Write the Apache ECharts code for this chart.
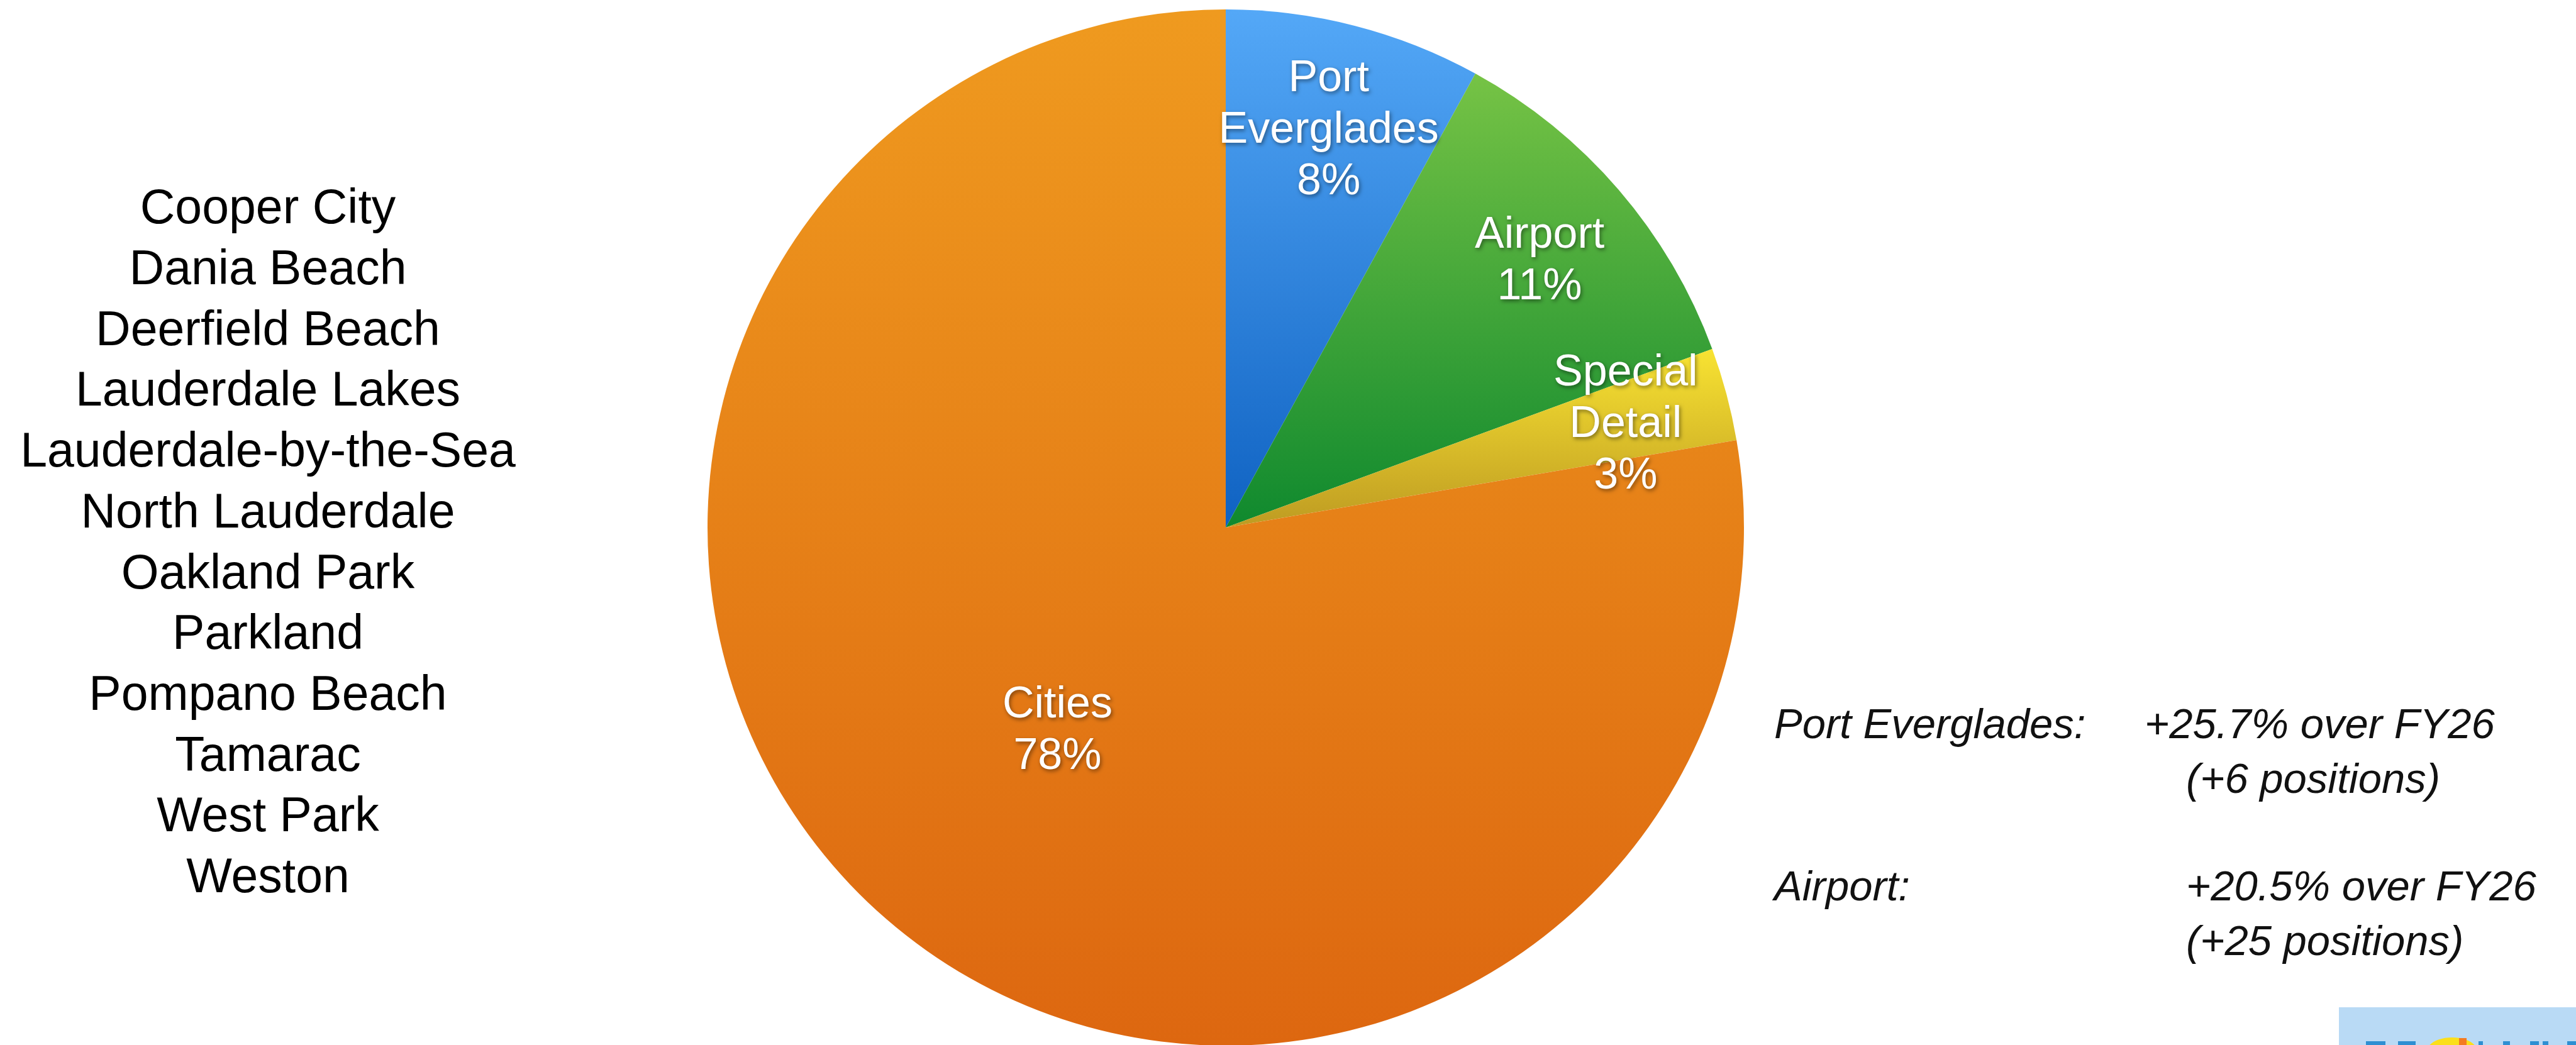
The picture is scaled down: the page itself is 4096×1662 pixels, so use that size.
<!DOCTYPE html>
<html><head><meta charset="utf-8">
<style>html,body{margin:0;padding:0;background:#fff;overflow:hidden}#c{width:4096px;height:1662px}</style>
<script src="https://cdn.jsdelivr.net/npm/echarts@6/dist/echarts.min.js"></script>
</head><body><div id="c"></div>
<script>
// ---- data ----
const sliceNames = ['Port Everglades', 'Airport', 'Special Detail', 'Cities'];
const sliceValues = [8.0, 11.4, 2.9, 77.7];
const cityList = ['Cooper City', 'Dania Beach', 'Deerfield Beach', 'Lauderdale Lakes',
  'Lauderdale-by-the-Sea', 'North Lauderdale', 'Oakland Park', 'Parkland',
  'Pompano Beach', 'Tamarac', 'West Park', 'Weston'];
const noteLabels = ['Port Everglades:', 'Airport:'];
const noteChanges = ['+25.7% over FY26', '+20.5% over FY26'];
const notePositions = ['(+6 positions)', '(+25 positions)'];

// ---- styles ----
const gradStops = [
  ['#54A8F7', '#0F62C2'],
  ['#76C345', '#0F892E'],
  ['#F8E332', '#BE9B22'],
  ['#EF9A1F', '#DD6710']
];
const FONT = '"Liberation Sans", Arial, Helvetica, sans-serif';
const grad = (c) => new echarts.graphic.LinearGradient(0, 0, 0, 1, [
  { offset: 0, color: c[0] }, { offset: 1, color: c[1] }]);

const labelStyle = {
  color: '#fff', fontFamily: FONT, fontSize: 70, lineHeight: 82,
  offset: [0, 6],
  textShadowColor: 'rgba(0,0,0,0.45)', textShadowBlur: 6,
  textShadowOffsetX: 2, textShadowOffsetY: 3,
  formatter: (p) => p.name.replace(' ', '\n') + '\n' + p.percent + '%'
};

const center = [1949, 839];
const R = 824;

const mainData = sliceNames.map((n, i) => ({
  name: n, value: sliceValues[i],
  itemStyle: { color: grad(gradStops[i]) },
  label: { show: n === 'Cities' }
}));
const ringData = sliceNames.map((n, i) => ({
  name: n, value: sliceValues[i],
  itemStyle: { color: 'rgba(0,0,0,0)' },
  label: { show: n !== 'Cities' }
}));

const noteStyle = { fontFamily: FONT, fontSize: 67, fontStyle: 'italic', fill: '#111', verticalAlign: 'middle' };

const chart = echarts.init(document.getElementById('c'), null, { renderer: 'canvas' });
chart.setOption({
  animation: false,
  backgroundColor: '#fff',
  series: [
    {
      type: 'pie', center: center, radius: [0, R], startAngle: 90, clockwise: true,
      percentPrecision: 0, silent: true, data: mainData,
      itemStyle: { borderWidth: 0 },
      label: Object.assign({ position: 'inside' }, labelStyle),
      labelLine: { show: false }, emphasis: { disabled: true }
    },
    {
      type: 'pie', center: center, radius: [R * 0.59, R], startAngle: 90, clockwise: true,
      percentPrecision: 0, silent: true, data: ringData, z: 3,
      itemStyle: { borderWidth: 0 },
      label: Object.assign({ position: 'inside' }, labelStyle),
      labelLine: { show: false }, emphasis: { disabled: true }
    }
  ],
  graphic: [
    {
      type: 'text', x: 426, y: 866,
      style: {
        text: cityList.join('\n'), fontFamily: FONT, fontSize: 77, lineHeight: 96.7,
        fill: '#000', align: 'center', verticalAlign: 'middle'
      }
    },
    { type: 'text', x: 2821, y: 1155, style: Object.assign({ text: noteLabels[0] }, noteStyle) },
    { type: 'text', x: 3410, y: 1155, style: Object.assign({ text: noteChanges[0] }, noteStyle) },
    { type: 'text', x: 3476, y: 1242, style: Object.assign({ text: notePositions[0] }, noteStyle) },
    { type: 'text', x: 2821, y: 1413, style: Object.assign({ text: noteLabels[1] }, noteStyle) },
    { type: 'text', x: 3476, y: 1413, style: Object.assign({ text: noteChanges[1] }, noteStyle) },
    { type: 'text', x: 3476, y: 1500, style: Object.assign({ text: notePositions[1] }, noteStyle) },
    // partial logo in bottom-right corner
    { type: 'rect', shape: { x: 3719, y: 1602, width: 377, height: 60 }, style: { fill: '#B9DAF5' } },
    { type: 'ellipse', shape: { cx: 3899, cy: 1672, rx: 40, ry: 22 }, style: { fill: '#FBDF1A' } },
    { type: 'rect', shape: { x: 3910, y: 1651, width: 12, height: 11 }, style: { fill: '#F47B20' } },
    { type: 'rect', shape: { x: 3762, y: 1656, width: 31, height: 6 }, style: { fill: '#2E8FD2' } },
    { type: 'rect', shape: { x: 3813, y: 1656, width: 28, height: 6 }, style: { fill: '#2E8FD2' } },
    { type: 'rect', shape: { x: 3941, y: 1656, width: 7, height: 6 }, style: { fill: '#2E8FD2' } },
    { type: 'rect', shape: { x: 3980, y: 1656, width: 11, height: 6 }, style: { fill: '#2E8FD2' } },
    { type: 'rect', shape: { x: 4023, y: 1656, width: 14, height: 6 }, style: { fill: '#2E8FD2' } },
    { type: 'rect', shape: { x: 4043, y: 1656, width: 9, height: 6 }, style: { fill: '#2E8FD2' } },
    { type: 'rect', shape: { x: 4082, y: 1656, width: 14, height: 6 }, style: { fill: '#2E8FD2' } }
  ]
});
</script></body></html>
